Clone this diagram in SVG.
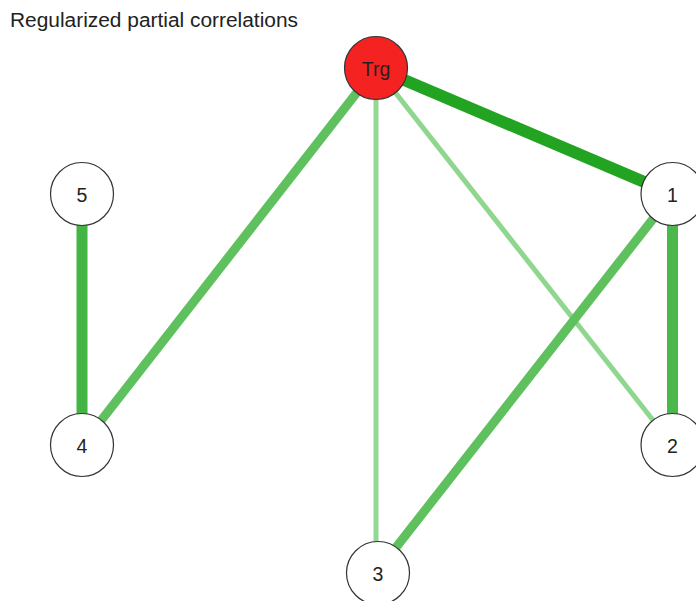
<svg xmlns="http://www.w3.org/2000/svg" width="696" height="601" viewBox="0 0 696 601">
<style>
.node circle{fill:#fff;stroke:#333;stroke-width:1.2}
.node text{font-family:"Liberation Sans",Arial,sans-serif;font-size:19.5px;fill:#222;text-anchor:middle;dominant-baseline:central}
.edge{stroke-linecap:butt;fill:none}
.title{font-family:"Liberation Sans",Arial,sans-serif;font-size:19.5px;fill:#222}
</style>
<rect width="696" height="601" fill="#fff"/>
<text class="title" x="10" y="27" textLength="288" lengthAdjust="spacingAndGlyphs">Regularized partial correlations</text>
<g id="connectors">
<line class="edge" x1="376" y1="68" x2="672.5" y2="194" stroke="#22a422" stroke-width="12"/>
<line class="edge" x1="376" y1="68" x2="82" y2="445" stroke="#5ec15e" stroke-width="9"/>
<line class="edge" x1="376" y1="68" x2="376" y2="573" stroke="#92d892" stroke-width="5"/>
<line class="edge" x1="376" y1="68" x2="672.5" y2="445" stroke="#8fd68f" stroke-width="5"/>
<line class="edge" x1="672.5" y1="194" x2="376" y2="573" stroke="#5ec15e" stroke-width="9"/>
<line class="edge" x1="672.5" y1="194" x2="672.5" y2="445" stroke="#4cb84c" stroke-width="11"/>
<line class="edge" x1="82" y1="194" x2="82" y2="445" stroke="#44b544" stroke-width="11"/>
</g>
<g id="node-Trg" class="node"><circle cx="376" cy="68" r="31.5" style="fill:#f52222"/><text x="376" y="69">Trg</text></g>
<g id="node-1" class="node"><circle cx="672.5" cy="194" r="31.5"/><text x="672.5" y="195">1</text></g>
<g id="node-2" class="node"><circle cx="672.5" cy="445" r="31.5"/><text x="672.5" y="446">2</text></g>
<g id="node-3" class="node"><circle cx="378" cy="573" r="31.5"/><text x="378" y="574">3</text></g>
<g id="node-4" class="node"><circle cx="82" cy="445" r="31.5"/><text x="82" y="446">4</text></g>
<g id="node-5" class="node"><circle cx="82" cy="194" r="31.5"/><text x="82" y="195">5</text></g>
</svg>
